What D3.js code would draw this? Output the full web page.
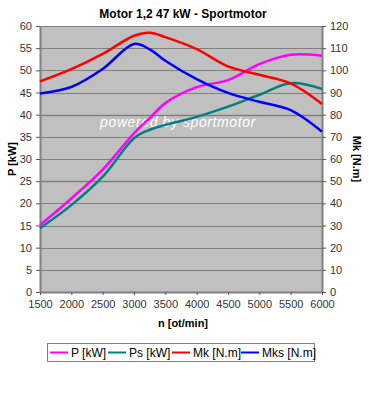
<!DOCTYPE html>
<html>
<head>
<meta charset="utf-8">
<script src="https://cdn.jsdelivr.net/npm/d3@7"></script>
<style>
  body { margin: 0; background: #fff; }
  svg { font-family: "Liberation Sans", Arial, sans-serif; }
</style>
</head>
<body>
<svg id="chart" width="369" height="401"></svg>
<script>
// values (rpm, kW, N.m)
var rpm = [1500, 2000, 2500, 3000, 3250, 3500, 4000, 4500, 5000, 5500, 6000]
var pKw = [15.1, 21.1, 27.6, 35.8, 39.2, 42.6, 46.2, 47.8, 51.4, 53.5, 53.3]
var psKw = [14.4, 19.6, 26.0, 34.7, 36.6, 37.7, 39.5, 41.8, 44.5, 47.1, 45.8]
var mkNm = [95, 100.5, 107.4, 115.6, 117, 115, 109.6, 101.8, 98, 94.1, 84.8]
var mksNm = [89.6, 92.5, 100.6, 111.9, 109.5, 104.3, 96, 89.8, 85.8, 82, 72.3]

var xTicks = [1500, 2000, 2500, 3000, 3500, 4000, 4500, 5000, 5500, 6000]
var leftTicks = [0, 5, 10, 15, 20, 25, 30, 35, 40, 45, 50, 55, 60]
var rightTicks = [0, 10, 20, 30, 40, 50, 60, 70, 80, 90, 100, 110, 120]

var seriesNames = ["P [kW]", "Ps [kW]", "Mk [N.m]", "Mks [N.m]"]
var seriesColors = ["#ff00ff", "#008080", "#ff0000", "#0000ff"]

var dimensions = {
    width: 369,
    height: 401,
    margin: { top: 26, bottom: 109, left: 40, right: 47 }
}

var svg = d3.select("#chart")

var xScale = d3.scaleLinear()
    .domain([1500, 6000])
    .range([dimensions.margin.left, dimensions.width - dimensions.margin.right])

var yLeft = d3.scaleLinear()
    .domain([0, 60])
    .range([dimensions.height - dimensions.margin.bottom, dimensions.margin.top])

var yRight = d3.scaleLinear()
    .domain([0, 120])
    .range([dimensions.height - dimensions.margin.bottom, dimensions.margin.top])

var plotW = xScale.range()[1] - xScale.range()[0]
var plotB = yLeft.range()[0]

// plot background
svg.append("rect")
    .attr("x", dimensions.margin.left)
    .attr("y", dimensions.margin.top)
    .attr("width", plotW)
    .attr("height", plotB - dimensions.margin.top)
    .attr("fill", "#c0c0c0")

// horizontal grid
svg.append("g")
    .selectAll("line")
    .data(leftTicks.slice(1))
    .join("line")
    .attr("x1", dimensions.margin.left)
    .attr("x2", dimensions.margin.left + plotW)
    .attr("y1", d => Math.round(yLeft(d)) + 0.5)
    .attr("y2", d => Math.round(yLeft(d)) + 0.5)
    .attr("stroke", "#808080")
    .attr("stroke-width", d => (d == 40 || d == 25) ? 1.6 : 1)

// axes
function styleAxis(g) {
    g.select(".domain").attr("stroke", "#808080").attr("stroke-width", 2)
    g.selectAll(".tick line").attr("stroke", "#555")
    g.selectAll(".tick text")
        .attr("fill", "#333")
        .style("font-size", "11px")
}

svg.append("g")
    .attr("transform", "translate(0," + plotB + ")")
    .call(d3.axisBottom(xScale).tickValues(xTicks).tickFormat(d3.format("d"))
        .tickSize(3).tickSizeOuter(0).tickPadding(5))
    .call(styleAxis)

svg.append("g")
    .attr("transform", "translate(" + dimensions.margin.left + ",0)")
    .call(d3.axisLeft(yLeft).tickValues(leftTicks).tickSize(4).tickSizeOuter(0).tickPadding(4))
    .call(styleAxis)

svg.append("g")
    .attr("transform", "translate(" + (dimensions.margin.left + plotW) + ",0)")
    .call(d3.axisRight(yRight).tickValues(rightTicks).tickSize(4).tickSizeOuter(0).tickPadding(4))
    .call(styleAxis)

// watermark
svg.append("text")
    .attr("x", 178)
    .attr("y", 127)
    .attr("text-anchor", "middle")
    .attr("fill", "#ffffff")
    .style("font-size", "14px")
    .style("font-style", "italic")
    .style("letter-spacing", "0.6px")
    .text("powered by sportmotor")

// lines
var series = [
    { vals: pKw, y: yLeft },
    { vals: psKw, y: yLeft },
    { vals: mkNm, y: yRight },
    { vals: mksNm, y: yRight }
]

series.forEach(function(s, i) {
    var line = d3.line()
        .x((d, j) => xScale(rpm[j]))
        .y(d => s.y(d))
        .curve(d3.curveCatmullRom.alpha(0.5))
    svg.append("path")
        .datum(s.vals)
        .attr("d", line)
        .attr("fill", "none")
        .attr("stroke", seriesColors[i])
        .attr("stroke-width", 2.5)
})

// title and axis labels
svg.append("text")
    .attr("x", 183)
    .attr("y", 18)
    .attr("text-anchor", "middle")
    .style("font-size", "12px")
    .style("font-weight", "bold")
    .text("Motor 1,2 47 kW - Sportmotor")

svg.append("text")
    .attr("x", 183)
    .attr("y", 327)
    .attr("text-anchor", "middle")
    .style("font-size", "11px")
    .style("font-weight", "bold")
    .text("n [ot/min]")

svg.append("text")
    .attr("transform", "translate(16,159) rotate(-90)")
    .attr("text-anchor", "middle")
    .style("font-size", "11px")
    .style("font-weight", "bold")
    .text("P [kW]")

svg.append("text")
    .attr("transform", "translate(353,159) rotate(90)")
    .attr("text-anchor", "middle")
    .style("font-size", "11px")
    .style("font-weight", "bold")
    .text("Mk [N.m]")

// legend
var legend = svg.append("g")
legend.append("rect")
    .attr("x", 47.5)
    .attr("y", 343.5)
    .attr("width", 267)
    .attr("height", 18)
    .attr("fill", "#fff")
    .attr("stroke", "#808080")

var legendX = [50, 108, 172, 241]
seriesNames.forEach(function(name, i) {
    var g = legend.append("g").attr("transform", "translate(" + legendX[i] + ",352.5)")
    g.append("line")
        .attr("x1", 0).attr("x2", 18)
        .attr("stroke", seriesColors[i])
        .attr("stroke-width", 2)
    g.append("text")
        .attr("x", 21)
        .attr("y", 4.5)
        .style("font-size", "12px")
        .text(name)
})
</script>
</body>
</html>
